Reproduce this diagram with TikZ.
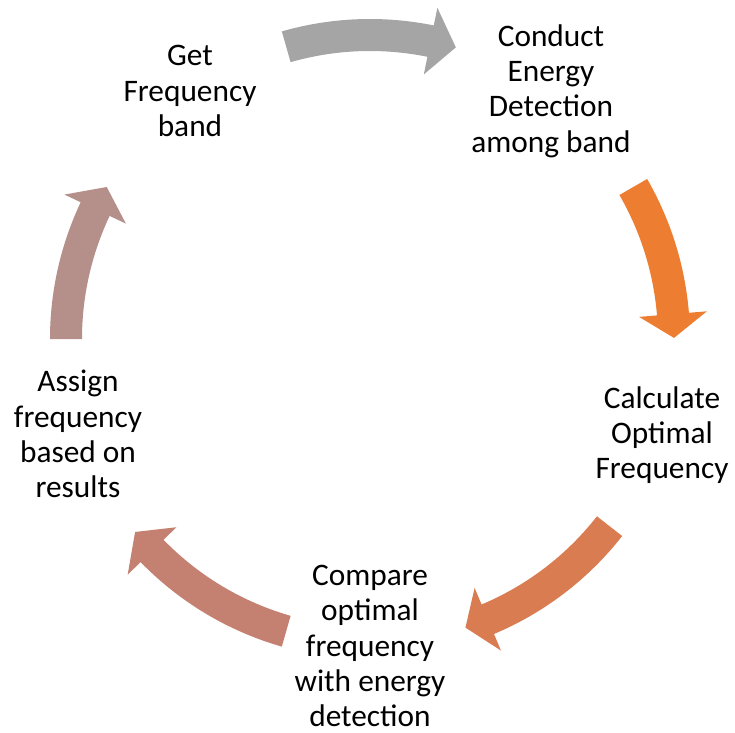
\documentclass[tikz,border=0pt]{standalone}
\usepackage{fontspec}
\setmainfont{Carlito}
\definecolor{arrGray}{HTML}{A5A5A5}
\definecolor{arrOrange}{HTML}{ED7D31}
\definecolor{arrCoral}{HTML}{D97C52}
\definecolor{arrRose}{HTML}{C48070}
\definecolor{arrMauve}{HTML}{B58F8A}
% curved block arrow on the cycle: #1 colour, #2 tail angle, #3 head base angle, #4 tip angle
\newcommand{\cyclearrow}[4]{%
  \fill[#1] (#2:320) arc[start angle=#2, end angle=#3, radius=320]
    -- (#3:338) -- (#4:304) -- (#3:270) -- (#3:288)
    arc[start angle=#3, end angle=#2, radius=288] -- cycle;}
\begin{document}
\begin{tikzpicture}[x=0.75pt,y=0.75pt,
  step label/.style={font=\fontsize{23.5}{26.5}\selectfont, align=center, text=black, inner sep=0pt}]
\useasboundingbox (-370,-393) rectangle (365,339);
\cyclearrow{arrGray}{106}{78.5}{73.6}
\cyclearrow{arrOrange}{30}{4.7}{0.2}
\cyclearrow{arrCoral}{-38}{-67.2}{-71.7}
\cyclearrow{arrRose}{-106}{-135.8}{-140.6}
\cyclearrow{arrMauve}{180}{154.7}{150}
\node[step label] (get) at (-180,248) {Get\\Frequency\\band};
\node[step label] (conduct) at (181,248) {Conduct\\Energy\\Detection\\among band};
\node[step label] (calc) at (292,-96) {Calculate\\Optimal\\Frequency};
\node[step label] (compare) at (0,-307) {Compare\\optimal\\frequency\\with energy\\detection};
\node[step label] (assign) at (-292,-95) {Assign\\frequency\\based on\\results};
\end{tikzpicture}
\end{document}
